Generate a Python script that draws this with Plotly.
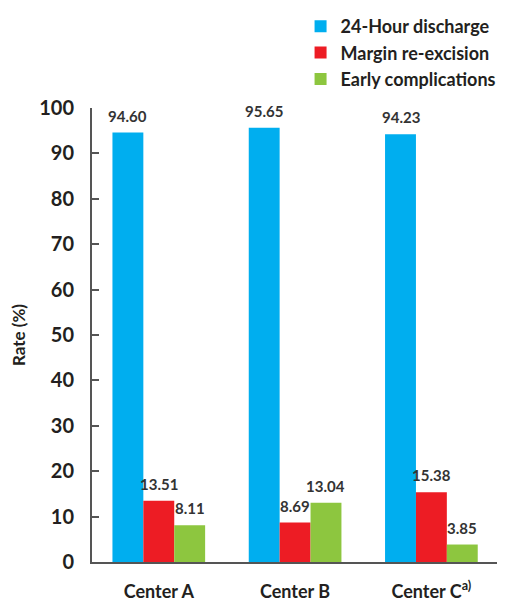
import plotly.graph_objects as go

categories = ["Center A", "Center B", "Center C<sup>a)</sup>"]
discharge = [94.60, 95.65, 94.23]
reexcision = [13.51, 8.69, 15.38]
complications = [8.11, 13.04, 3.85]
series_names = ["24-Hour discharge", "Margin re-excision", "Early complications"]
colors = ["#00AEEF", "#ED1C24", "#8DC63F"]
y_ticks = [0, 10, 20, 30, 40, 50, 60, 70, 80, 90, 100]

FONT = "Lato"
TXT = "#231F20"
BAR_PX = 30.8  # approx pixel width of one bar in the group

fig = go.Figure()
all_series = [discharge, reexcision, complications]
for name, vals, col in zip(series_names, all_series, colors):
    fig.add_trace(go.Bar(
        x=categories, y=vals, name=name, marker=dict(color=col, line=dict(width=0)),
    ))

# value labels above bars
for i, vals in enumerate(all_series):
    for cat, v in zip(categories, vals):
        fig.add_annotation(
            x=cat, y=v, text=f"{v:.2f}", showarrow=False,
            xanchor="center", yanchor="bottom", yshift=6, xshift=(i - 1) * BAR_PX,
            font=dict(family=FONT, size=15, color="#333333", weight="bold"),
        )

fig.update_layout(
    width=497, height=595,
    margin=dict(l=84, r=0, t=100, b=41, autoexpand=False),
    paper_bgcolor="white", plot_bgcolor="white",
    barmode="group", bargap=0.32, bargroupgap=0,
    font=dict(family=FONT, color=TXT),
    showlegend=True,
    legend=dict(x=0.505, xanchor="left", yref="container", y=1.017, yanchor="top",
                font=dict(family=FONT, size=18, color=TXT, weight="bold"),
                bgcolor="rgba(0,0,0,0)", itemwidth=30, tracegroupgap=0),
    xaxis=dict(range=[-0.49, 2.54], showline=True, linecolor="#555555", linewidth=2,
               ticks="", showgrid=False, zeroline=False, ticklabelstandoff=12,
               tickfont=dict(family=FONT, size=18, color=TXT, weight="bold")),
    yaxis=dict(range=[0, 100], tickvals=y_ticks, showline=True, linecolor="#555555",
               linewidth=2, ticks="inside", ticklen=7, tickcolor="#555555", tickwidth=1.5,
               showgrid=False, zeroline=False, ticklabelstandoff=12,
               tickfont=dict(family=FONT, size=20, color=TXT, weight="bold"),
               title=dict(text="Rate (%)", standoff=12,
                          font=dict(family=FONT, size=17, color=TXT, weight="bold"))),
)

fig.write_html("out.html")
